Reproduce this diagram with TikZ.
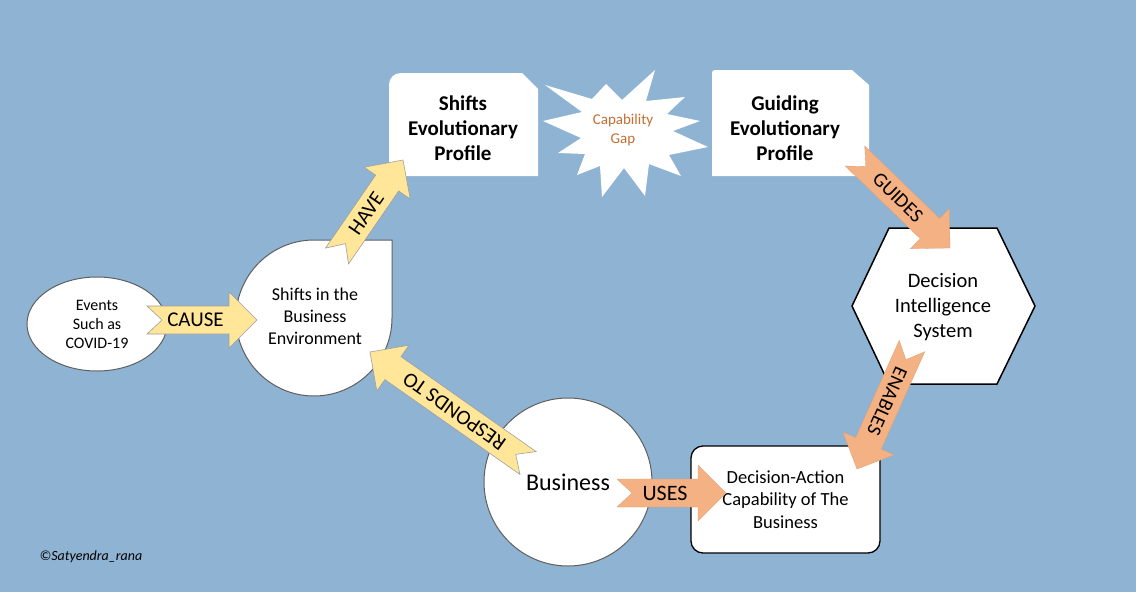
\documentclass[tikz,border=0pt]{standalone}
\usepackage{fontspec}
\setmainfont{Carlito}
\usepackage{xcolor}
\usepackage{tikz}
\usetikzlibrary{calc, shapes.geometric, positioning}

\definecolor{nenxanh}{RGB}{142,179,211}
\definecolor{vangnhat}{RGB}{255,230,153}
\definecolor{camnhat}{RGB}{244,177,131}
\definecolor{vienxam}{RGB}{95,95,95}
\definecolor{chugap}{RGB}{197,110,50}

\tikzset{
    shapeline/.style={draw=vienxam, line width=1pt, fill=white},
    labeltext/.style={align=center, text=black},
    yellowarrow/.style={fill=vangnhat, draw=gray!75, line width=0.6pt},
    orangearrow/.style={fill=camnhat, draw=camnhat!90!black, line width=0.3pt}
}

% mũi tên khối có khía đuôi: kiểu, đuôi, mũi, nhãn, cỡ chữ
\newcommand{\blockarrow}[5]{%
    \coordinate (ba-h) at ($(#3)!28pt!(#2)$);
    \coordinate (ba-n) at ($(#2)!15pt!(#3)$);
    \filldraw[#1] ($(#2)!14pt!90:(#3)$) -- ($(ba-h)!14pt!-90:(#2)$)
        -- ($(ba-h)!28pt!-90:(#2)$) -- (#3) -- ($(ba-h)!28pt!90:(#2)$)
        -- ($(ba-h)!14pt!90:(#2)$) -- ($(#2)!14pt!-90:(#3)$) -- (ba-n) -- cycle;
    \path (ba-n) -- (ba-h) node[midway, sloped, allow upside down, text=black,
        font=\fontsize{#5}{#5}\selectfont] {#4};
}

\begin{document}
\begin{tikzpicture}[x=1pt, y=-1pt, >=latex]
    % Nền
    \fill[nenxanh] (0,0) rectangle (1136,592);
    \useasboundingbox (0,0) rectangle (1136,592);

    % Sự kiện
    \node[ellipse, shapeline, minimum width=140pt, minimum height=94pt, inner sep=0pt,
        labeltext, font=\fontsize{16}{19}\selectfont] (events) at (97,324)
        {Events\\Such as\\COVID-19};

    % Hình giọt nước
    \filldraw[shapeline] (392,318) .. controls (392,361) and (357,396) .. (314,396)
        .. controls (271,396) and (236,361) .. (236,318)
        .. controls (236,275) and (271,240) .. (314,240) -- (392,240) -- cycle;
    \node[labeltext, font=\fontsize{18}{22}\selectfont] (shiftsenv) at (315,316)
        {Shifts in the\\Business\\Environment};

    % Hai hộp hồ sơ
    \fill[white] (389,176) -- (389,85) .. controls (389,78) and (394,73) .. (401,73)
        -- (522,73) -- (538,89) -- (538,176) -- cycle;
    \node[labeltext, font=\fontsize{21}{25}\selectfont\bfseries] (shiftsprof) at (463,128)
        {Shifts\\Evolutionary\\Profile};
    \fill[white] (712,176) -- (712,73) .. controls (712,71) and (713,70) .. (715,70)
        -- (852,70) -- (869,85) -- (869,176) -- cycle;
    \node[labeltext, font=\fontsize{21}{25}\selectfont\bfseries] (guidingprof) at (785,128)
        {Guiding\\Evolutionary\\Profile};

    % Ngôi sao
    \fill[white] (543,121) -- (582,112) -- (545,85) -- (592,99) -- (606,84) -- (622,100)
        -- (655,70) -- (646,101) -- (685,97) -- (667,114) -- (700,121) -- (673,131)
        -- (708,147) -- (669,155) -- (681,176) -- (649,164) -- (645,196) -- (624,168)
        -- (602,197) -- (600,166) -- (577,175) -- (585,154) -- (558,153) -- (581,138) -- cycle;
    \node[align=center, text=chugap, font=\fontsize{15}{19}\selectfont] (gap) at (623,130)
        {Capability\\Gap};

    % Lục giác
    \filldraw[fill=white, draw=black, line width=1.5pt] (852,306) -- (889,228) -- (997,228)
        -- (1035,306) -- (997,384) -- (889,384) -- cycle;
    \node[labeltext, font=\fontsize{20.5}{25}\selectfont] (dis) at (943,307)
        {Decision\\Intelligence\\System};

    % Doanh nghiệp
    \node[circle, shapeline, minimum size=168pt, inner sep=0pt,
        font=\fontsize{24}{24}\selectfont] (business) at (568,482) {Business};
    \node[draw=black, line width=1.3pt, fill=white, rounded corners=12pt,
        minimum width=189pt, minimum height=107pt, labeltext,
        font=\fontsize{18.5}{22.5}\selectfont] (dac) at (785.5,499.5)
        {Decision-Action\\Capability of The\\Business};

    % Bản quyền
    \node[font=\itshape\fontsize{14}{14}\selectfont] (credit) at (91,557) {©Satyendra\_rana};

    % Các mũi tên
    \coordinate (causeA) at (147,320);   \coordinate (causeB) at (257,320);
    \coordinate (haveA) at (337,256);    \coordinate (haveB) at (403,160);
    \coordinate (respA) at (528,463);    \coordinate (respB) at (370,352);
    \coordinate (usesA) at (617,493);    \coordinate (usesB) at (726,493);
    \coordinate (guideA) at (855,156);   \coordinate (guideB) at (950,248);
    \coordinate (enabA) at (912,346);    \coordinate (enabB) at (857,469);

    \blockarrow{yellowarrow}{causeA}{causeB}{CAUSE}{21}
    \blockarrow{yellowarrow}{haveA}{haveB}{HAVE}{21}
    \blockarrow{yellowarrow}{respA}{respB}{RESPONDS TO}{21}
    \blockarrow{orangearrow}{usesA}{usesB}{USES}{22}
    \blockarrow{orangearrow}{guideA}{guideB}{GUIDES}{20}
    \blockarrow{orangearrow}{enabA}{enabB}{ENABLES}{20}
\end{tikzpicture}
\end{document}
